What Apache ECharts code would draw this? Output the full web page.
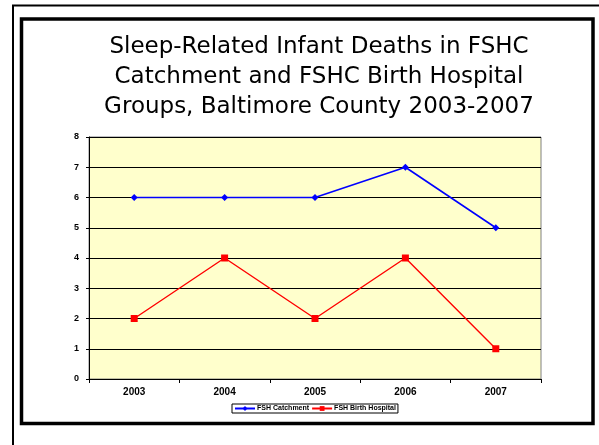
<!DOCTYPE html>
<html>
<head>
<meta charset="utf-8">
<script src="https://cdn.jsdelivr.net/npm/echarts@6/dist/echarts.min.js"></script>
<style>
  html, body { margin: 0; padding: 0; background: #fff; }
  #main { width: 599px; height: 445px; }
</style>
</head>
<body>
<div id="main"></div>
<script>
// data
var years = ['2003', '2004', '2005', '2006', '2007'];
var catchment = [6, 6, 6, 7, 5];
var birthHospital = [2, 4, 2, 4, 1];
var yTicks = { min: 0, max: 8, interval: 1 };

var myChart = echarts.init(document.getElementById('main'));

var labelFont = { fontFamily: 'Liberation Sans, Arial', fontWeight: 'bold', color: '#000' };

var option = {
  animation: false,
  backgroundColor: '#fff',
  title: {
    text: 'Sleep-Related Infant Deaths in FSHC\nCatchment and FSHC Birth Hospital\nGroups, Baltimore County 2003-2007',
    left: 314,
    top: 27,
    textAlign: 'center',
    textStyle: {
      fontFamily: 'DejaVu Sans',
      fontWeight: 'normal',
      fontSize: 23,
      lineHeight: 30,
      color: '#000'
    }
  },
  graphic: [
    // slide frame lines
    { type: 'line', shape: { x1: 12, y1: 5.5, x2: 599, y2: 5.5 }, style: { stroke: '#000', lineWidth: 2 } },
    { type: 'line', shape: { x1: 13, y1: 5, x2: 13, y2: 445 }, style: { stroke: '#000', lineWidth: 2 } },
    { type: 'rect', shape: { x: 21.5, y: 19, width: 571.5, height: 404.5 }, style: { fill: 'none', stroke: '#000', lineWidth: 3.5 }, z: 10 }
  ],
  legend: {
    data: ['FSH Catchment', 'FSH Birth Hospital'],
    left: 232,
    top: 404,
    padding: [1, 2, 1, 2],
    itemGap: 2,
    itemWidth: 20,
    itemHeight: 6,
    borderColor: '#000',
    borderWidth: 1,
    textStyle: { fontFamily: 'Liberation Sans, Arial', fontWeight: 'bold', fontSize: 7, color: '#000', padding: [0, 0, 0, -3] }
  },
  grid: {
    left: 89,
    top: 137,
    right: 58,
    bottom: 66,
    show: true,
    backgroundColor: '#FFFFCC',
    borderColor: '#808080',
    borderWidth: 1
  },
  xAxis: {
    type: 'category',
    data: years,
    boundaryGap: true,
    axisLine: { lineStyle: { color: '#000', width: 1 } },
    axisTick: { show: true, length: 4, lineStyle: { color: '#000' } },
    axisLabel: Object.assign({ fontSize: 10, margin: 8 }, labelFont)
  },
  yAxis: {
    type: 'value',
    min: yTicks.min,
    max: yTicks.max,
    interval: yTicks.interval,
    axisLine: { show: true, lineStyle: { color: '#000', width: 1 } },
    axisTick: { show: true, length: 3, lineStyle: { color: '#000' } },
    axisLabel: Object.assign({ fontSize: 9, margin: 10 }, labelFont),
    splitLine: { show: true, lineStyle: { color: '#000', width: 1 } }
  },
  series: [
    {
      name: 'FSH Catchment',
      type: 'line',
      data: catchment,
      z: 5,
      symbol: 'diamond',
      symbolSize: 7,
      color: '#0000FF',
      lineStyle: { width: 1.6, color: '#0000FF' },
      itemStyle: { color: '#0000FF' }
    },
    {
      name: 'FSH Birth Hospital',
      type: 'line',
      data: birthHospital,
      z: 5,
      symbol: 'rect',
      symbolSize: 7,
      color: '#FF0000',
      lineStyle: { width: 1.4, color: '#FF0000' },
      itemStyle: { color: '#FF0000' }
    }
  ]
};

myChart.setOption(option);
</script>
</body>
</html>
